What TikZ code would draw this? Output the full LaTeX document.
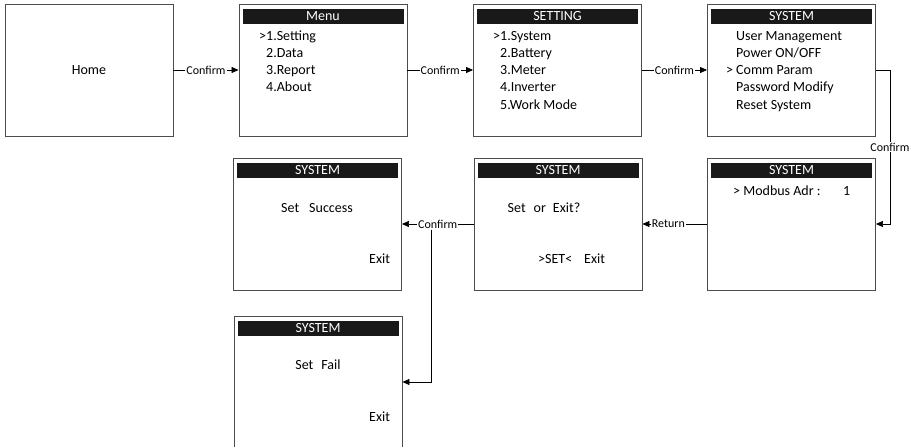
\documentclass[tikz,border=0pt]{standalone}
\usepackage{fontspec}
\setmainfont{Carlito}
\usetikzlibrary{positioning,arrows.meta}

\begin{document}
\begin{tikzpicture}[x=1pt, y=-1pt,
	screen/.style={draw=black!70, line width=0.9pt, minimum width=168pt, minimum height=132pt, inner sep=0pt},
	title/.style={fill=black!90, text=white, minimum width=161pt, minimum height=15pt, inner sep=0pt, font=\fontsize{14}{14}\selectfont},
	item/.style={anchor=base west, inner sep=0pt, font=\fontsize{14}{17}\selectfont},
	msg/.style={anchor=base, inner sep=0pt, font=\fontsize{14}{17}\selectfont},
	lbl/.style={fill=white, inner sep=1pt, font=\fontsize{12}{12}\selectfont},
	flow/.style={line width=0.7pt, -{Triangle[length=7pt,width=6pt]}}]
	\useasboundingbox (0,0) rectangle (921,447);

	% top row
	\node[screen, font=\fontsize{14}{17}\selectfont] (home) at (89,70) {Home};

	\node[screen] (menu) at (323,70) {};
	\node[title, below=5pt of menu.north] (menu-t) {Menu};
	\foreach \t [count=\i from 0] in {{>1.Setting},{\phantom{>}2.Data},{\phantom{>}3.Report},{\phantom{>}4.About}}
		\node[item] (menu-\i) at (259,{40+17.3*\i}) {\t};

	\node[screen] (setting) at (557.5,70) {};
	\node[title, below=5pt of setting.north] (setting-t) {SETTING};
	\foreach \t [count=\i from 0] in {{>1.System},{\phantom{>}2.Battery},{\phantom{>}3.Meter},{\phantom{>}4.Inverter},{\phantom{>}5.Work Mode}}
		\node[item] (setting-\i) at (493,{40+17.3*\i}) {\t};

	\node[screen] (system) at (791.5,70) {};
	\node[title, below=5pt of system.north] (system-t) {SYSTEM};
	\foreach \t [count=\i from 0] in {{User Management},{Power ON/OFF},{\llap{> }Comm Param},{Password Modify},{Reset System}}
		\node[item] (system-\i) at (736,{40+17.3*\i}) {\t};

	% second row
	\node[screen] (modbus) at (791.5,224) {};
	\node[title, below=5pt of modbus.north] (modbus-t) {SYSTEM};
	\node[item] (modbus-0) at (733,195) {> Modbus Adr :};
	\node[item] (modbus-1) at (843,195) {1};

	\node[screen] (setexit) at (558,224) {};
	\node[title, below=5pt of setexit.north] (setexit-t) {SYSTEM};
	\node[msg] (setexit-0) at (544,212) {Set\hspace{8pt}or\hspace{7pt}Exit?};
	\node[item] (setexit-1) at (538,263) {>SET<\hspace{12pt}Exit};

	\node[screen] (success) at (317.5,224) {};
	\node[title, below=5pt of success.north] (success-t) {SYSTEM};
	\node[msg] (success-0) at (317,212) {Set\hspace{10pt}Success};
	\node[item] (success-1) at (369,263) {Exit};

	% third row
	\node[screen] (fail) at (318,382) {};
	\node[title, below=5pt of fail.north] (fail-t) {SYSTEM};
	\node[msg] (fail-0) at (318,369) {Set\hspace{8pt}Fail};
	\node[item] (fail-1) at (369,421) {Exit};

	% connectors
	\draw[flow] (home) -- node[lbl] (c1) {Confirm} (menu);
	\draw[flow] (menu) -- node[lbl] (c2) {Confirm} (setting);
	\draw[flow] (setting) -- node[lbl] (c3) {Confirm} (system);
	\draw[flow] (system.east) -- ++(14,0) |- node[lbl, pos=0.25] (c4) {Confirm} (modbus.east);
	\draw[flow] (modbus) -- node[lbl, pos=0.6] (r1) {Return} (setexit);
	\draw[flow] (setexit) -- node[lbl] (c5) {Confirm} (success);
	\draw[flow] ([xshift=-6pt]c5.south) |- (fail.east);
\end{tikzpicture}
\end{document}
